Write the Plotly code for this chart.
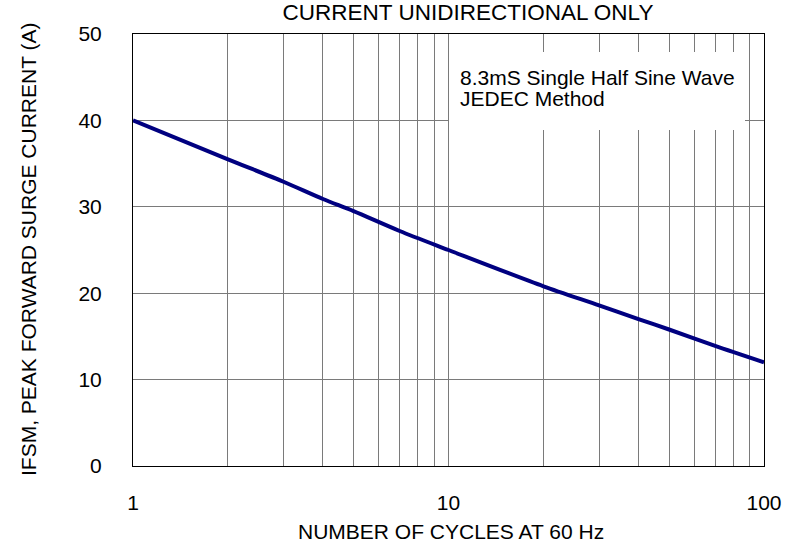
import plotly.graph_objects as go

# Data
cycles = [1, 2, 3, 4, 5, 7, 10, 20, 30, 40, 50, 70, 100]
current = [40, 35.5, 32.9, 30.9, 29.5, 27.2, 25.0, 20.8, 18.6, 17.0, 15.8, 13.9, 12.0]

x_tickvals = [1, 10, 100]
x_ticktext = ["1", "10", "100"]
x_minor = [2, 3, 4, 5, 6, 7, 8, 9, 20, 30, 40, 50, 60, 70, 80, 90]
y_tickvals = [0, 10, 20, 30, 40, 50]

title_text = "CURRENT UNIDIRECTIONAL ONLY"
x_title = "NUMBER OF CYCLES AT 60 Hz"
y_title = "IFSM, PEAK FORWARD SURGE CURRENT (A)"
note_lines = ["8.3mS Single Half Sine Wave", "JEDEC Method"]

FONT = "Liberation Sans, Arial, sans-serif"
GRID = "#7a7a7a"

fig = go.Figure()
fig.add_trace(go.Scatter(
    x=cycles, y=current, mode="lines",
    line=dict(color="#000080", width=4, shape="spline", smoothing=0.8),
    showlegend=False, hoverinfo="skip",
))

fig.update_layout(
    width=800, height=543,
    margin=dict(l=133, r=36, t=34, b=77),
    paper_bgcolor="white", plot_bgcolor="white",
    font=dict(family=FONT, size=21, color="black"),
    showlegend=False,
    title=dict(text=title_text, x=468 / 800, xref="container", xanchor="center",
               y=1 - 12 / 543, yref="container", yanchor="middle",
               font=dict(family=FONT, size=22.5, color="black")),
    xaxis=dict(
        type="log", range=[0, 2],
        tickvals=x_tickvals, ticktext=x_ticktext,
        ticks="", ticklabelstandoff=18,
        showgrid=True, gridcolor=GRID, gridwidth=1,
        minor=dict(tickvals=x_minor, showgrid=True, gridcolor=GRID, gridwidth=1, ticks=""),
        showline=True, linecolor="black", linewidth=1, mirror=True,
        zeroline=False,
    ),
    yaxis=dict(
        range=[0, 50],
        tickvals=y_tickvals,
        ticks="", ticklabelstandoff=26,
        showgrid=True, gridcolor=GRID, gridwidth=1,
        showline=True, linecolor="black", linewidth=1, mirror=True,
        zeroline=False,
    ),
)

# White box behind the note (hides the grid lines)
fig.add_shape(type="rect", xref="paper", yref="paper",
              x0=(449 - 133) / 631, x1=(745 - 133) / 631,
              y0=(466 - 130) / 432, y1=(466 - 52) / 432,
              fillcolor="white", line=dict(width=0), layer="above")

fig.add_annotation(text=note_lines[0], xref="paper", yref="paper",
                   x=(458 - 133) / 631, y=(466 - 77) / 432,
                   xanchor="left", yanchor="middle", showarrow=False,
                   font=dict(family=FONT, size=21, color="black"))
fig.add_annotation(text=note_lines[1], xref="paper", yref="paper",
                   x=(458 - 133) / 631, y=(466 - 99) / 432,
                   xanchor="left", yanchor="middle", showarrow=False,
                   font=dict(family=FONT, size=21, color="black"))

# Axis titles
fig.add_annotation(text=x_title, xref="paper", yref="paper",
                   x=(451 - 133) / 631, y=(466 - 531) / 432,
                   xanchor="center", yanchor="middle", showarrow=False,
                   font=dict(family=FONT, size=21, color="black"))
fig.add_annotation(text=y_title, xref="paper", yref="paper",
                   x=(28 - 133) / 631, y=(466 - 250) / 432,
                   xanchor="center", yanchor="middle", showarrow=False,
                   textangle=-90,
                   font=dict(family=FONT, size=21, color="black"))

fig.write_html("out.html",
               config={"displayModeBar": False},
               post_script="document.body.style.margin='0px';document.body.style.overflow='hidden';")
